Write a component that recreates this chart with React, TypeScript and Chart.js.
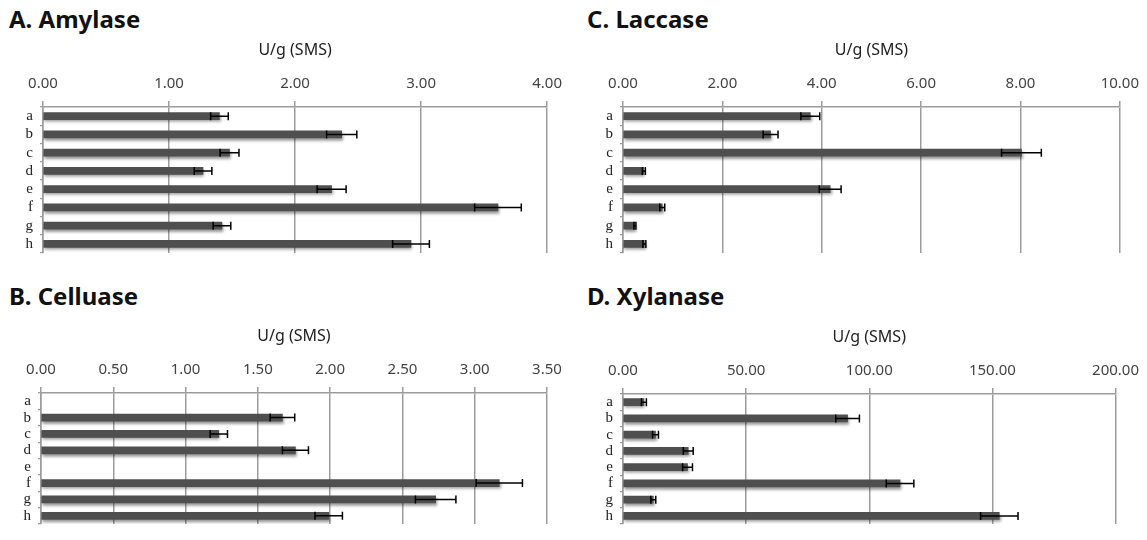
import React, { useEffect, useRef } from 'react';
import { Chart, registerables } from 'chart.js';

Chart.register(...registerables);

// ---------- data ----------
const categories = ['a', 'b', 'c', 'd', 'e', 'f', 'g', 'h'];

const amylaseValues = [1.40, 2.37, 1.48, 1.27, 2.29, 3.61, 1.42, 2.92];
const amylaseErrors = [0.07, 0.12, 0.075, 0.07, 0.115, 0.185, 0.07, 0.146];
const amylaseTicks = [0, 1, 2, 3, 4];

const celluaseValues: (number | null)[] = [null, 1.67, 1.23, 1.76, null, 3.17, 2.73, 1.99];
const celluaseErrors = [0, 0.085, 0.06, 0.09, 0, 0.16, 0.14, 0.095];
const celluaseTicks = [0, 0.5, 1, 1.5, 2, 2.5, 3, 3.5];

const laccaseValues = [3.77, 2.97, 8.02, 0.42, 4.17, 0.79, 0.24, 0.43];
const laccaseErrors = [0.19, 0.15, 0.40, 0.03, 0.22, 0.05, 0.02, 0.03];
const laccaseTicks = [0, 2, 4, 6, 8, 10];

const xylanaseValues = [8.5, 91.2, 13.2, 26.5, 26.2, 112.5, 12.3, 152.8];
const xylanaseErrors = [1.0, 4.8, 1.2, 2.0, 2.0, 5.6, 1.0, 7.6];
const xylanaseTicks = [0, 50, 100, 150, 200];

const axisTitle = 'U/g (SMS)';

// ---------- plugins ----------
const errorBarPlugin = {
  id: 'errorBars',
  beforeDatasetsDraw(chart: any) {
    const ctx = chart.ctx;
    ctx.save();
    ctx.shadowColor = 'rgba(0,0,0,0.4)';
    ctx.shadowBlur = 3;
    ctx.shadowOffsetX = 1;
    ctx.shadowOffsetY = 2.5;
  },
  afterDatasetsDraw(chart: any) {
    const ctx = chart.ctx;
    ctx.restore();
    const ds = chart.data.datasets[0];
    const errs: number[] = ds.errors || [];
    const meta = chart.getDatasetMeta(0);
    const xs = chart.scales.x;
    ctx.save();
    ctx.strokeStyle = '#000';
    ctx.lineWidth = 1.5;
    meta.data.forEach((el: any, i: number) => {
      const v = ds.data[i];
      if (v == null) return;
      const e = errs[i] || 0;
      const y = el.y;
      const x1 = xs.getPixelForValue(v - e);
      const x2 = xs.getPixelForValue(v + e);
      ctx.beginPath();
      ctx.moveTo(x1, y);
      ctx.lineTo(x2, y);
      ctx.moveTo(x1, y - 4);
      ctx.lineTo(x1, y + 4);
      ctx.moveTo(x2, y - 4);
      ctx.lineTo(x2, y + 4);
      ctx.stroke();
    });
    ctx.restore();
  },
};

type Area = { l: number; r: number; t: number; b: number };

type PanelProps = {
  title: string;
  values: (number | null)[];
  errors: number[];
  ticks: number[];
  x: number;
  y: number;
  w: number;
  h: number;
  area: Area;
  titleLeft: number;
  titleBaseline: number;
};

function Panel(p: PanelProps) {
  const ref = useRef<HTMLCanvasElement | null>(null);
  useEffect(() => {
    if (!ref.current) return;
    const grid = '#9c9c9c';
    const tickFontSize = 15;
    const titleFontSize = 16;
    const titleCenter = p.area.t - 57;
    const chart = new Chart(ref.current, {
      type: 'bar',
      data: {
        labels: categories,
        datasets: [
          {
            data: p.values as any,
            errors: p.errors,
            backgroundColor: '#4f4f4f',
            borderWidth: 0,
            barThickness: 7,
          } as any,
        ],
      },
      options: {
        indexAxis: 'y',
        animation: false,
        responsive: false,
        events: [],
        layout: {
          padding: { left: 0, top: 0, right: p.w - p.area.r, bottom: p.h - p.area.b },
        },
        plugins: {
          legend: { display: false },
          tooltip: { enabled: false },
          title: { display: false },
        },
        scales: {
          x: {
            type: 'linear',
            position: 'top',
            min: p.ticks[0],
            max: p.ticks[p.ticks.length - 1],
            ticks: {
              stepSize: p.ticks[1] - p.ticks[0],
              callback: (v: any) => Number(v).toFixed(2),
              font: { family: 'Noto Sans', size: tickFontSize },
              color: '#444',
              padding: 8,
              maxRotation: 0,
              autoSkip: false,
            },
            grid: { color: grid, lineWidth: 1.5, tickLength: 6, drawTicks: true },
            border: { display: true, color: grid, width: 1.5 },
            title: {
              display: true,
              text: axisTitle,
              font: { family: 'Noto Sans', size: titleFontSize },
              color: '#222',
              padding: { top: titleCenter - (titleFontSize * 1.2) / 2, bottom: 0 },
            },
            afterFit: (s: any) => {
              s.height = p.area.t;
            },
          },
          y: {
            type: 'category',
            offset: true,
            grid: {
              offset: true,
              drawOnChartArea: false,
              drawTicks: true,
              tickLength: 3,
              color: grid,
              lineWidth: 1.2,
            },
            border: { display: true, color: grid, width: 1.5 },
            ticks: {
              font: { family: 'Liberation Serif', size: 15 },
              color: '#222',
              padding: 7,
              autoSkip: false,
            },
            afterFit: (s: any) => {
              s.width = p.area.l;
            },
          },
        },
      } as any,
      plugins: [errorBarPlugin],
    });
    return () => chart.destroy();
  }, []);

  return (
    <>
      <div
        style={{
          position: 'absolute',
          left: p.titleLeft,
          top: p.titleBaseline - 21.3,
          fontFamily: 'Noto Sans',
          fontWeight: 700,
          fontSize: 24,
          lineHeight: '24px',
          color: '#111',
          whiteSpace: 'nowrap',
        }}
      >
        {p.title}
      </div>
      <canvas
        ref={ref}
        width={p.w}
        height={p.h}
        style={{ position: 'absolute', left: p.x, top: p.y, width: p.w, height: p.h }}
      />
    </>
  );
}

export default function App() {
  return (
    <div
      style={{
        position: 'fixed',
        left: 0,
        top: 0,
        width: 1147,
        height: 540,
        background: '#fff',
        overflow: 'hidden',
      }}
    >
      <Panel
        title="A. Amylase"
        values={amylaseValues}
        errors={amylaseErrors}
        ticks={amylaseTicks}
        x={0}
        y={0}
        w={570}
        h={270}
        area={{ l: 43, r: 548, t: 107, b: 253 }}
        titleLeft={9}
        titleBaseline={28}
      />
      <Panel
        title="C. Laccase"
        values={laccaseValues}
        errors={laccaseErrors}
        ticks={laccaseTicks}
        x={570}
        y={0}
        w={577}
        h={270}
        area={{ l: 53, r: 556, t: 107, b: 253 }}
        titleLeft={587}
        titleBaseline={28}
      />
      <Panel
        title="B. Celluase"
        values={celluaseValues}
        errors={celluaseErrors}
        ticks={celluaseTicks}
        x={0}
        y={270}
        w={570}
        h={270}
        area={{ l: 41, r: 547, t: 123, b: 268 }}
        titleLeft={9}
        titleBaseline={305}
      />
      <Panel
        title="D. Xylanase"
        values={xylanaseValues}
        errors={xylanaseErrors}
        ticks={xylanaseTicks}
        x={570}
        y={270}
        w={577}
        h={270}
        area={{ l: 53, r: 551, t: 124, b: 268 }}
        titleLeft={587}
        titleBaseline={305}
      />
    </div>
  );
}
